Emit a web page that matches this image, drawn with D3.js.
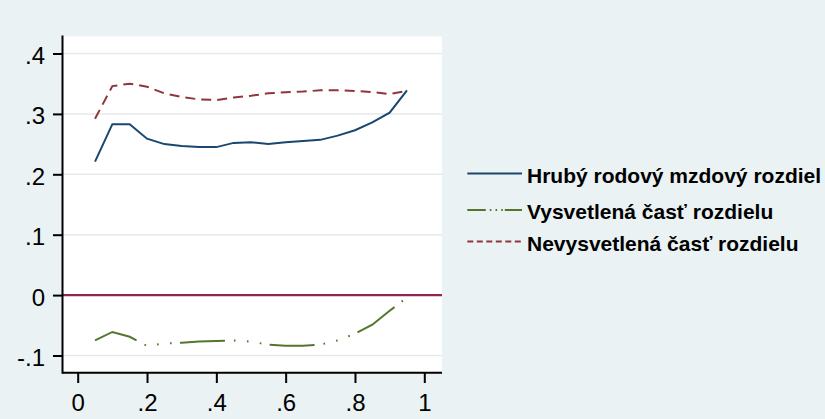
<!DOCTYPE html>
<html>
<head>
<meta charset="utf-8">
<script src="https://cdn.jsdelivr.net/npm/d3@7"></script>
<style>
  html, body { margin: 0; padding: 0; background: #eaf2f3; }
  svg { display: block; font-family: "Liberation Sans", Arial, sans-serif; }
</style>
</head>
<body>
<svg id="chart" width="825" height="419"></svg>
<script>
// Quantile grid (x) and the three decomposition series
const quantiles = [0.05, 0.10, 0.15, 0.20, 0.25, 0.30, 0.35, 0.40, 0.45, 0.50,
                   0.55, 0.60, 0.65, 0.70, 0.75, 0.80, 0.85, 0.90, 0.95];
const grossGap = [0.221, 0.283, 0.283, 0.259, 0.250, 0.247, 0.245, 0.245, 0.252, 0.253,
                  0.250, 0.253, 0.255, 0.257, 0.264, 0.273, 0.286, 0.302, 0.339];
const explainedPart = [-0.075, -0.061, -0.069, -0.084, -0.080, -0.079, -0.077, -0.076, -0.075, -0.077,
                       -0.082, -0.084, -0.084, -0.082, -0.075, -0.064, -0.049, -0.026, -0.004];
const unexplainedPart = [0.292, 0.346, 0.350, 0.345, 0.334, 0.328, 0.324, 0.323, 0.327, 0.330,
                         0.334, 0.336, 0.337, 0.339, 0.339, 0.338, 0.336, 0.333, 0.338];

const xTicks = [0, 0.2, 0.4, 0.6, 0.8, 1];
const xTickLabels = ["0", ".2", ".4", ".6", ".8", "1"];
const yTicks = [-0.1, 0, 0.1, 0.2, 0.3, 0.4];
const yTickLabels = ["-.1", "0", ".1", ".2", ".3", ".4"];

const seriesNames = ["Hrubý rodový mzdový rozdiel", "Vysvetlená časť rozdielu", "Nevysvetlená časť rozdielu"];

const svg = d3.select("#chart");
const W = 825, H = 419;

// plot region box
const plot = { left: 62.5, right: 442, top: 36.5, bottom: 372.7 };

const x = d3.scaleLinear().domain([0, 1]).range([77.7, 424.3]);
const y = d3.scaleLinear().domain([-0.1, 0.4]).range([355.5, 53.5]);

svg.append("rect").attr("width", W).attr("height", H).attr("fill", "#eaf2f3");
svg.append("rect")
  .attr("x", plot.left).attr("y", plot.top)
  .attr("width", plot.right - plot.left).attr("height", plot.bottom - plot.top)
  .attr("fill", "#ffffff");

// horizontal grid lines
svg.append("g").selectAll("line")
  .data(yTicks.filter(v => v !== 0))
  .join("line")
  .attr("x1", plot.left).attr("x2", plot.right)
  .attr("y1", d => y(d)).attr("y2", d => y(d))
  .attr("stroke", "#e6e9ea").attr("stroke-width", 1.5);

// reference line at zero
svg.append("line")
  .attr("x1", plot.left).attr("x2", plot.right)
  .attr("y1", y(0)).attr("y2", y(0))
  .attr("stroke", "#922552").attr("stroke-width", 2.4);

// series
const rows = quantiles.map((q, i) => ({ q, g: grossGap[i], e: explainedPart[i], u: unexplainedPart[i] }));
const lineOf = key => d3.line().x(d => x(d.q)).y(d => y(d[key]));

svg.append("path").datum(rows)
  .attr("d", lineOf("u"))
  .attr("fill", "none").attr("stroke", "#90353b").attr("stroke-width", 2)
  .attr("stroke-dasharray", "10,6");

svg.append("path").datum(rows)
  .attr("d", lineOf("e"))
  .attr("fill", "none").attr("stroke", "#55752f").attr("stroke-width", 2)
  .attr("stroke-dasharray", "45,9,1.6,11.4,1.6,11.4,1.6,8.4");

svg.append("path").datum(rows)
  .attr("d", lineOf("g"))
  .attr("fill", "none").attr("stroke", "#1a476f").attr("stroke-width", 2);

// axes
const yAxis = d3.axisLeft(y)
  .tickValues(yTicks)
  .tickFormat((d, i) => yTickLabels[i])
  .tickSize(9.5).tickPadding(8);
const gy = svg.append("g").attr("transform", `translate(${plot.left},0)`).call(yAxis);
gy.select(".domain").remove();
gy.selectAll(".tick line").attr("stroke", "#000").attr("stroke-width", 2);
gy.selectAll(".tick text").attr("font-size", 24).attr("fill", "#000")
  .attr("font-family", "'Liberation Sans', Arial, sans-serif").attr("dy", "0.42em");

const xAxis = d3.axisBottom(x)
  .tickValues(xTicks)
  .tickFormat((d, i) => xTickLabels[i])
  .tickSize(10.3).tickPadding(10.5);
const gx = svg.append("g").attr("transform", `translate(0,${plot.bottom})`).call(xAxis);
gx.select(".domain").remove();
gx.selectAll(".tick line").attr("stroke", "#000").attr("stroke-width", 2);
gx.selectAll(".tick text").attr("font-size", 24).attr("fill", "#000")
  .attr("font-family", "'Liberation Sans', Arial, sans-serif");

// axis lines
svg.append("line")
  .attr("x1", plot.left).attr("x2", plot.left)
  .attr("y1", plot.top - 1).attr("y2", plot.bottom + 1)
  .attr("stroke", "#000").attr("stroke-width", 2);
svg.append("line")
  .attr("x1", plot.left).attr("x2", plot.right)
  .attr("y1", plot.bottom).attr("y2", plot.bottom)
  .attr("stroke", "#000").attr("stroke-width", 2);

// legend
const legendItems = [
  { name: seriesNames[0], color: "#1a476f", dash: null, y: 173.5 },
  { name: seriesNames[1], color: "#55752f", dash: "18.5,4,1.6,4.1,1.6,4.1,1.6,2", y: 210 },
  { name: seriesNames[2], color: "#90353b", dash: "6,3.5", y: 241.5 }
];
const lg = svg.append("g");
const item = lg.selectAll("g").data(legendItems).join("g")
  .attr("transform", d => `translate(0,${d.y})`);
item.append("line")
  .attr("x1", 467.3).attr("x2", 522)
  .attr("stroke", d => d.color).attr("stroke-width", 2)
  .attr("stroke-dasharray", d => d.dash);
item.append("text")
  .attr("x", 527).attr("y", 9)
  .attr("font-size", 21).attr("font-weight", "bold").attr("fill", "#000")
  .text(d => d.name);
</script>
</body>
</html>
